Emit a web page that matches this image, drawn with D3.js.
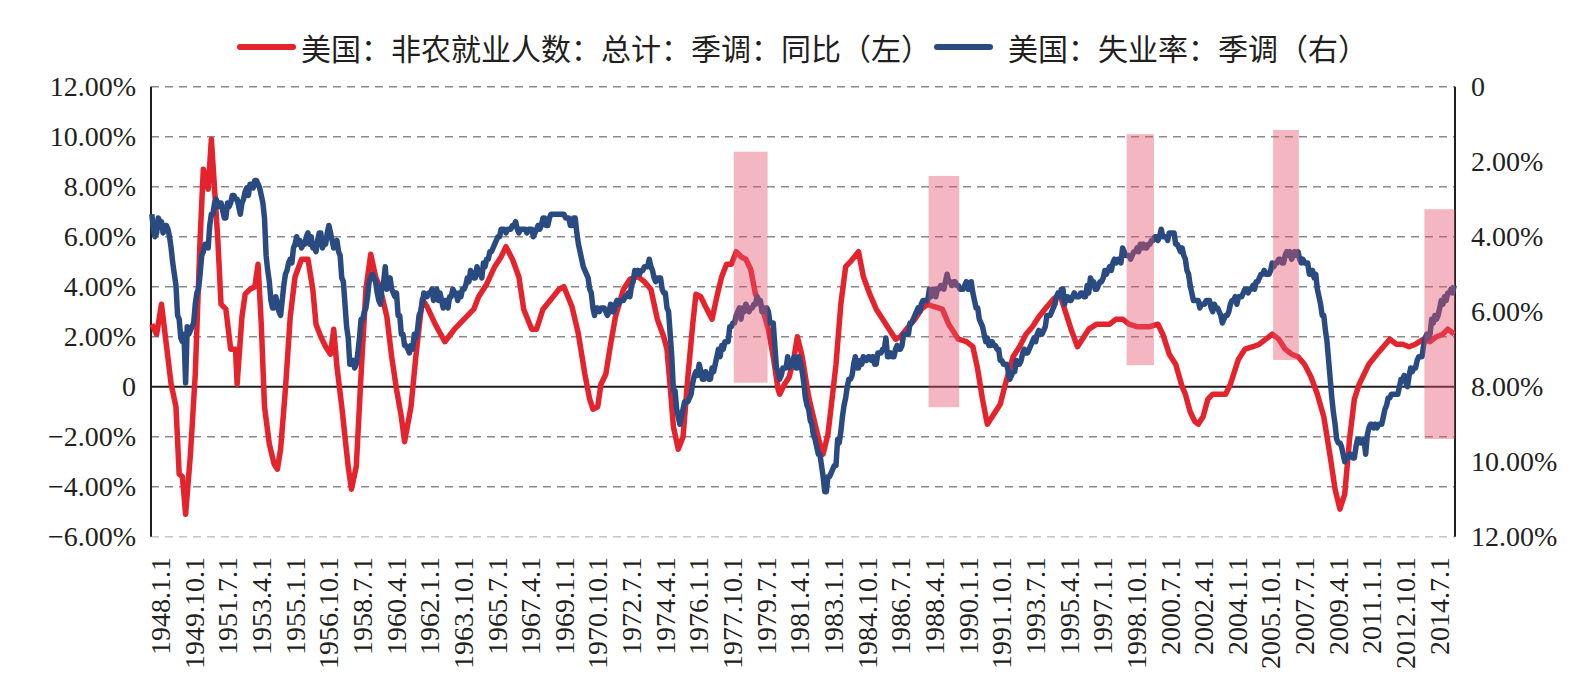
<!DOCTYPE html>
<html lang="zh">
<head>
<meta charset="UTF-8">
<title>美国非农就业与失业率</title>
<script src="https://d3js.org/d3.v7.min.js"></script>
<style>
  body { margin: 0; background: #fff; }
  svg { display: block; }
  .tick-label { font-family: "Liberation Serif", "Times New Roman", serif; font-size: 28px; fill: #231f20; }
  .legend-label { font-family: "Noto Sans CJK SC", sans-serif; font-size: 30px; fill: #231f20; }
</style>
</head>
<body>
<svg id="chart" width="1586" height="689"></svg>
<script>
// 图例
const seriesNames = ["美国：非农就业人数：总计：季调：同比（左）", "美国：失业率：季调（右）"];

// 横轴标签（每21个月一个）
const tickLabels = [
  "1948.1.1", "1949.10.1", "1951.7.1", "1953.4.1", "1955.1.1", "1956.10.1", "1958.7.1", "1960.4.1",
  "1962.1.1", "1963.10.1", "1965.7.1", "1967.4.1", "1969.1.1", "1970.10.1", "1972.7.1", "1974.4.1",
  "1976.1.1", "1977.10.1", "1979.7.1", "1981.4.1", "1983.1.1", "1984.10.1", "1986.7.1", "1988.4.1",
  "1990.1.1", "1991.10.1", "1993.7.1", "1995.4.1", "1997.1.1", "1998.10.1", "2000.7.1", "2002.4.1",
  "2004.1.1", "2005.10.1", "2007.7.1", "2009.4.1", "2011.1.1", "2012.10.1", "2014.7.1"
];

// 左轴 / 右轴刻度
const leftTicks = [12, 10, 8, 6, 4, 2, 0, -2, -4, -6];
const rightTicks = [0, 2, 4, 6, 8, 10, 12];

// 非农就业同比（%），读图取点
const payrollMonths = [
  "1948.1","1948.4","1948.7","1948.10","1949.1","1949.4","1949.6","1949.8","1949.10","1950.1",
  "1950.4","1950.7","1950.9","1950.12","1951.2","1951.4","1951.6","1951.8","1951.11","1952.2",
  "1952.5","1952.6","1952.9","1952.11","1953.2","1953.5","1953.7","1953.9","1953.11","1954.2",
  "1954.5","1954.7","1954.9","1954.12","1955.3","1955.6","1955.10","1956.2","1956.5","1956.7",
  "1956.10","1957.1","1957.4","1957.6","1957.8","1957.11","1958.3","1958.5","1958.8","1958.11",
  "1959.2","1959.5","1959.8","1959.11","1960.3","1960.6","1960.9","1960.12","1961.2","1961.6",
  "1961.9","1962.1","1962.4","1962.9","1963.3","1963.9","1964.3","1964.9","1964.12","1965.5",
  "1965.10","1966.2","1966.5","1966.9","1967.1","1967.4","1967.9","1967.12","1968.4","1968.9",
  "1969.2","1969.5","1969.10","1970.2","1970.6","1970.9","1970.11","1971.2","1971.4","1971.7",
  "1971.10","1972.1","1972.6","1972.10","1973.3","1973.7","1973.11","1974.3","1974.7","1974.9",
  "1974.11","1975.1","1975.4","1975.7","1975.10","1976.1","1976.3","1976.6","1976.9","1977.1",
  "1977.4","1977.7","1977.10","1978.1","1978.4","1978.7","1978.10","1979.1","1979.4","1979.8",
  "1979.12","1980.3","1980.6","1980.7","1980.10","1981.1","1981.4","1981.6","1981.9","1982.1",
  "1982.5","1982.8","1982.10","1983.1","1983.3","1983.6","1983.9","1983.12","1984.3","1984.8",
  "1984.11","1985.3","1985.7","1985.11","1986.3","1986.7","1986.10","1987.3","1987.7","1987.11",
  "1988.3","1988.7","1988.12","1989.4","1989.10","1990.3","1990.7","1990.10","1991.1","1991.4",
  "1991.7","1991.12","1992.4","1992.8","1992.12","1993.4","1993.8","1993.12","1994.5","1994.9",
  "1995.1","1995.4","1995.8","1995.12","1996.3","1996.7","1996.12","1997.4","1997.8","1997.12",
  "1998.4","1998.8","1999.1","1999.5","1999.9","2000.2","2000.5","2000.9","2001.1","2001.5",
  "2001.7","2001.10","2002.1","2002.3","2002.6","2002.9","2002.12","2003.4","2003.8","2003.11",
  "2004.4","2004.8","2005.1","2005.5","2005.9","2006.1","2006.5","2006.9","2007.1","2007.5",
  "2007.9","2008.1","2008.5","2008.9","2009.1","2009.4","2009.7","2009.10","2010.1","2010.4",
  "2010.7","2010.10","2011.1","2011.6","2011.10","2012.2","2012.6","2012.10","2013.2","2013.6",
  "2013.11","2014.3","2014.7","2014.11","2015.2","2015.6"
];
const payrollYoY = [
  2.5, 2.1, 3.3, 1.7, 0.1, -0.8, -3.5, -3.6, -5.1, -2.7,
  0.5, 5.9, 8.7, 7.9, 9.9, 7.9, 5.9, 3.3, 3.1, 1.5,
  1.5, 0.1, 2.8, 3.7, 3.9, 4.0, 4.9, 2.5, -0.8, -2.3,
  -3.1, -3.3, -2.5, -0.1, 2.8, 4.4, 5.1, 5.1, 3.9, 2.5,
  2.0, 1.6, 1.3, 2.3, 0.8, -0.8, -3.2, -4.1, -3.2, 0.5,
  3.9, 5.3, 4.4, 3.9, 2.8, 1.2, -0.1, -1.2, -2.2, -0.8,
  1.2, 3.5, 3.2, 2.5, 1.8, 2.3, 2.7, 3.1, 3.6, 4.1,
  4.8, 5.2, 5.6, 5.1, 4.4, 3.1, 2.3, 2.3, 3.1, 3.5,
  3.9, 4.0, 3.2, 2.1, 0.5, -0.5, -0.9, -0.8, 0.1, 0.5,
  1.7, 2.8, 3.9, 4.3, 4.4, 4.2, 3.9, 2.7, 2.0, 1.5,
  0.0, -1.6, -2.5, -2.0, 0.4, 2.5, 3.7, 3.6, 3.2, 2.7,
  3.6, 4.4, 4.9, 4.9, 5.4, 5.2, 5.1, 4.7, 3.7, 3.2,
  2.3, 1.2, -0.1, -0.3, 0.1, 0.4, 1.2, 2.0, 1.2, -0.4,
  -1.5, -2.3, -2.7, -1.9, -0.8, 0.9, 3.3, 4.8, 5.0, 5.4,
  4.4, 3.7, 3.1, 2.7, 2.3, 1.9, 2.0, 2.4, 2.7, 3.1,
  3.3, 3.2, 3.1, 2.5, 1.9, 1.8, 1.6, 0.7, -0.5, -1.5,
  -1.2, -0.7, 0.3, 1.2, 1.6, 2.1, 2.4, 2.8, 3.2, 3.5,
  3.7, 3.1, 2.3, 1.6, 1.9, 2.3, 2.5, 2.5, 2.5, 2.7,
  2.7, 2.5, 2.4, 2.4, 2.4, 2.5, 2.1, 1.3, 0.9, 0.0,
  -0.3, -1.0, -1.4, -1.5, -1.2, -0.5, -0.3, -0.3, -0.3, 0.1,
  1.1, 1.5, 1.6, 1.7, 1.9, 2.1, 1.9, 1.5, 1.3, 1.2,
  0.9, 0.4, -0.3, -1.2, -2.8, -4.1, -4.9, -4.3, -2.1, -0.5,
  0.1, 0.5, 0.9, 1.3, 1.6, 1.9, 1.7, 1.7, 1.6, 1.7,
  1.9, 1.8, 2.0, 2.1, 2.3, 2.1
];

// 失业率（%），1948.1 - 2015.6 逐月
const unemploymentRate = [
  3.4, 3.8, 4.0, 3.9, 3.5, 3.6, 3.6, 3.9, 3.8, 3.7, 3.8, 4.0,
  4.3, 4.7, 5.0, 5.3, 6.1, 6.2, 6.7, 6.8, 6.6, 7.9, 6.4, 6.6,
  6.5, 6.4, 6.3, 5.8, 5.5, 5.4, 5.0, 4.5, 4.4, 4.2, 4.2, 4.3,
  3.7, 3.4, 3.4, 3.1, 3.0, 3.2, 3.1, 3.1, 3.3, 3.5, 3.5, 3.1,
  3.2, 3.1, 2.9, 2.9, 3.0, 3.0, 3.2, 3.4, 3.1, 3.0, 2.8, 2.7,
  2.9, 2.6, 2.6, 2.7, 2.5, 2.5, 2.6, 2.7, 2.9, 3.1, 3.5, 4.5,
  4.9, 5.2, 5.7, 5.9, 5.9, 5.6, 5.8, 6.0, 6.1, 5.7, 5.3, 5.0,
  4.9, 4.7, 4.6, 4.7, 4.3, 4.2, 4.0, 4.2, 4.1, 4.3, 4.2, 4.2,
  4.0, 3.9, 4.2, 4.0, 4.3, 4.3, 4.4, 4.1, 3.9, 3.9, 4.3, 4.2,
  4.2, 3.9, 3.7, 3.9, 4.1, 4.3, 4.2, 4.1, 4.4, 4.5, 5.1, 5.2,
  5.8, 6.4, 6.7, 7.4, 7.4, 7.3, 7.5, 7.4, 7.1, 6.7, 6.2, 6.2,
  6.0, 5.9, 5.6, 5.2, 5.1, 5.0, 5.1, 5.2, 5.5, 5.7, 5.8, 5.3,
  5.2, 4.8, 5.4, 5.2, 5.1, 5.4, 5.5, 5.6, 5.5, 6.1, 6.1, 6.6,
  6.6, 6.9, 6.9, 7.0, 7.1, 6.9, 7.0, 6.6, 6.7, 6.5, 6.1, 6.0,
  5.8, 5.5, 5.6, 5.6, 5.5, 5.5, 5.4, 5.7, 5.6, 5.4, 5.7, 5.5,
  5.7, 5.9, 5.7, 5.7, 5.9, 5.6, 5.6, 5.4, 5.5, 5.5, 5.7, 5.5,
  5.6, 5.4, 5.4, 5.3, 5.1, 5.2, 4.9, 5.0, 5.1, 5.1, 4.8, 5.0,
  4.9, 5.1, 4.7, 4.8, 4.6, 4.6, 4.4, 4.4, 4.3, 4.2, 4.1, 4.0,
  4.0, 3.8, 3.8, 3.8, 3.9, 3.8, 3.8, 3.8, 3.7, 3.7, 3.6, 3.8,
  3.9, 3.8, 3.8, 3.8, 3.8, 3.9, 3.8, 3.8, 3.8, 4.0, 3.9, 3.8,
  3.7, 3.8, 3.7, 3.5, 3.5, 3.7, 3.7, 3.5, 3.4, 3.4, 3.4, 3.4,
  3.4, 3.4, 3.4, 3.4, 3.4, 3.5, 3.5, 3.5, 3.7, 3.7, 3.5, 3.5,
  3.9, 4.2, 4.4, 4.6, 4.8, 4.9, 5.0, 5.1, 5.4, 5.5, 5.9, 6.1,
  5.9, 5.9, 6.0, 5.9, 5.9, 5.9, 6.0, 6.1, 6.0, 5.8, 6.0, 6.0,
  5.8, 5.7, 5.8, 5.7, 5.7, 5.7, 5.6, 5.6, 5.5, 5.6, 5.3, 5.2,
  4.9, 5.0, 4.9, 5.0, 4.9, 4.9, 4.8, 4.8, 4.8, 4.6, 4.8, 4.9,
  5.1, 5.2, 5.1, 5.1, 5.1, 5.4, 5.5, 5.5, 5.9, 6.0, 6.6, 7.2,
  8.1, 8.1, 8.6, 8.8, 9.0, 8.8, 8.6, 8.4, 8.4, 8.4, 8.3, 8.2,
  7.9, 7.7, 7.6, 7.7, 7.4, 7.6, 7.8, 7.8, 7.6, 7.7, 7.8, 7.8,
  7.5, 7.6, 7.4, 7.2, 7.0, 7.2, 6.9, 7.0, 6.8, 6.8, 6.8, 6.4,
  6.4, 6.3, 6.3, 6.1, 6.0, 5.9, 6.2, 5.9, 6.0, 5.8, 5.9, 6.0,
  5.9, 5.9, 5.8, 5.8, 5.6, 5.7, 5.7, 6.0, 5.9, 6.0, 5.9, 6.0,
  6.3, 6.3, 6.3, 6.9, 7.5, 7.6, 7.8, 7.7, 7.5, 7.5, 7.5, 7.2,
  7.5, 7.4, 7.4, 7.2, 7.5, 7.5, 7.2, 7.4, 7.6, 7.9, 8.3, 8.5,
  8.6, 8.9, 9.0, 9.3, 9.4, 9.6, 9.8, 9.8, 10.1, 10.4, 10.8, 10.8,
  10.4, 10.4, 10.3, 10.2, 10.1, 10.1, 9.4, 9.5, 9.2, 8.8, 8.5, 8.3,
  8.0, 7.8, 7.8, 7.7, 7.4, 7.2, 7.5, 7.5, 7.3, 7.4, 7.2, 7.3,
  7.3, 7.2, 7.2, 7.3, 7.2, 7.4, 7.4, 7.1, 7.1, 7.1, 7.0, 7.0,
  6.7, 7.2, 7.2, 7.1, 7.2, 7.2, 7.0, 6.9, 7.0, 7.0, 6.9, 6.6,
  6.6, 6.6, 6.6, 6.3, 6.3, 6.2, 6.1, 6.0, 5.9, 6.0, 5.8, 5.7,
  5.7, 5.7, 5.7, 5.4, 5.6, 5.4, 5.4, 5.6, 5.4, 5.4, 5.3, 5.3,
  5.4, 5.2, 5.0, 5.2, 5.2, 5.3, 5.2, 5.2, 5.3, 5.3, 5.4, 5.4,
  5.4, 5.3, 5.2, 5.4, 5.4, 5.2, 5.5, 5.7, 5.9, 5.9, 6.2, 6.3,
  6.4, 6.6, 6.8, 6.7, 6.9, 6.9, 6.8, 6.9, 6.9, 7.0, 7.0, 7.3,
  7.3, 7.4, 7.4, 7.4, 7.6, 7.8, 7.7, 7.6, 7.6, 7.3, 7.4, 7.4,
  7.3, 7.1, 7.0, 7.1, 7.1, 7.0, 6.9, 6.8, 6.7, 6.8, 6.6, 6.5,
  6.6, 6.6, 6.5, 6.4, 6.1, 6.1, 6.1, 6.0, 5.9, 5.8, 5.6, 5.5,
  5.6, 5.4, 5.4, 5.8, 5.6, 5.6, 5.7, 5.7, 5.6, 5.5, 5.6, 5.6,
  5.6, 5.5, 5.5, 5.6, 5.6, 5.3, 5.5, 5.1, 5.2, 5.2, 5.4, 5.4,
  5.3, 5.2, 5.2, 5.1, 4.9, 5.0, 4.9, 4.8, 4.9, 4.7, 4.6, 4.7,
  4.6, 4.6, 4.7, 4.3, 4.4, 4.5, 4.5, 4.5, 4.6, 4.5, 4.4, 4.4,
  4.3, 4.4, 4.2, 4.3, 4.2, 4.3, 4.3, 4.2, 4.2, 4.1, 4.1, 4.0,
  4.0, 4.1, 4.0, 3.8, 4.0, 4.0, 4.0, 4.1, 3.9, 3.9, 3.9, 3.9,
  4.2, 4.2, 4.3, 4.4, 4.3, 4.5, 4.6, 4.9, 5.0, 5.3, 5.5, 5.7,
  5.7, 5.7, 5.7, 5.9, 5.8, 5.8, 5.8, 5.7, 5.7, 5.7, 5.9, 6.0,
  5.8, 5.9, 5.9, 6.0, 6.1, 6.3, 6.2, 6.1, 6.1, 6.0, 5.8, 5.7,
  5.7, 5.6, 5.8, 5.6, 5.6, 5.6, 5.5, 5.4, 5.4, 5.5, 5.4, 5.4,
  5.3, 5.4, 5.2, 5.2, 5.1, 5.0, 5.0, 4.9, 5.0, 5.0, 5.0, 4.9,
  4.7, 4.8, 4.7, 4.7, 4.6, 4.6, 4.7, 4.7, 4.5, 4.4, 4.5, 4.4,
  4.6, 4.5, 4.4, 4.5, 4.4, 4.6, 4.7, 4.6, 4.7, 4.7, 4.7, 5.0,
  5.0, 4.9, 5.1, 5.0, 5.4, 5.6, 5.8, 6.1, 6.1, 6.5, 6.8, 7.3,
  7.8, 8.3, 8.7, 9.0, 9.4, 9.5, 9.5, 9.6, 9.8, 10.0, 9.9, 9.9,
  9.8, 9.8, 9.9, 9.9, 9.6, 9.4, 9.4, 9.5, 9.5, 9.4, 9.8, 9.3,
  9.1, 9.0, 9.0, 9.1, 9.0, 9.1, 9.0, 9.0, 9.0, 8.8, 8.6, 8.5,
  8.3, 8.3, 8.2, 8.2, 8.2, 8.2, 8.2, 8.0, 7.8, 7.8, 7.7, 7.9,
  8.0, 7.7, 7.5, 7.6, 7.5, 7.5, 7.3, 7.2, 7.2, 7.2, 6.9, 6.7,
  6.6, 6.7, 6.6, 6.2, 6.3, 6.1, 6.2, 6.1, 5.9, 5.7, 5.8, 5.6,
  5.7, 5.5, 5.5, 5.4, 5.5, 5.3
];

// 阴影区间（按左轴数值给出上下沿）
const shadeStart = ["1978.3", "1988.4", "1998.7", "2006.2", "2013.12"];
const shadeEnd = ["1979.11", "1989.10", "1999.11", "2007.5", "2015.6"];
const shadeTop = [9.4, 8.43, 10.1, 10.27, 7.1];
const shadeBottom = [0.16, -0.82, 0.86, 1.07, -2.09];

// 月份类目 1948.1 - 2015.6
const months = [];
for (let y = 1948; y <= 2015; y++) {
  for (let m = 1; m <= 12; m++) {
    if (y === 2015 && m > 6) break;
    months.push(y + "." + m);
  }
}

const plotLeft = 151, plotRight = 1455, plotTop = 86.7, plotBottom = 536.7;

const svg = d3.select("#chart");

const x = d3.scaleBand().domain(months).range([plotLeft, plotRight]);
const xc = k => x(k) + x.bandwidth() / 2;
const yL = d3.scaleLinear().domain([-6, 12]).range([plotBottom, plotTop]);
const yR = d3.scaleLinear().domain([0, 12]).range([plotTop, plotBottom]);

// 横轴标签位置（标签列比数据点略偏右）
const keyOf = d => d.replace(/\.1$/, "");
const xLabel = d3.scalePoint()
  .domain(tickLabels)
  .range([xc(keyOf(tickLabels[0])) + 9, xc(keyOf(tickLabels[tickLabels.length - 1])) + 3]);

const fmt = v => v === 0 ? "0" : d3.format(".2f")(v) + "%";

// 网格线
svg.append("g").selectAll("line")
  .data(leftTicks.filter(v => v !== 0))
  .join("line")
  .attr("x1", plotLeft).attr("x2", plotRight)
  .attr("y1", d => yL(d)).attr("y2", d => yL(d))
  .attr("stroke", d => d === -6 ? "#c4c4c4" : "#8a8a8a")
  .attr("stroke-width", 1.6)
  .attr("stroke-dasharray", "8,6");

// 零线
svg.append("line")
  .attr("x1", plotLeft).attr("x2", plotRight)
  .attr("y1", yL(0)).attr("y2", yL(0))
  .attr("stroke", "#231f20").attr("stroke-width", 2);

// 左右纵轴
svg.append("line")
  .attr("x1", plotLeft).attr("x2", plotLeft)
  .attr("y1", plotTop).attr("y2", plotBottom)
  .attr("stroke", "#231f20").attr("stroke-width", 2);
svg.append("line")
  .attr("x1", plotRight).attr("x2", plotRight)
  .attr("y1", plotTop).attr("y2", plotBottom)
  .attr("stroke", "#231f20").attr("stroke-width", 2);

// 左轴标签
const leftAxis = svg.append("g")
  .attr("transform", `translate(${plotLeft - 15},0)`)
  .call(d3.axisLeft(yL).tickValues(leftTicks).tickFormat(fmt).tickSize(0).tickPadding(0));
leftAxis.select(".domain").remove();
leftAxis.selectAll("text").attr("class", "tick-label");

// 右轴标签
const rightAxis = svg.append("g")
  .attr("transform", `translate(${plotRight + 16},0)`)
  .call(d3.axisRight(yR).tickValues(rightTicks).tickFormat(fmt).tickSize(0).tickPadding(0));
rightAxis.select(".domain").remove();
rightAxis.selectAll("text").attr("class", "tick-label");

// 横轴标签（竖排）
svg.append("g").selectAll("text")
  .data(tickLabels)
  .join("text")
  .attr("class", "tick-label")
  .attr("transform", d => `translate(${xLabel(d)},${557}) rotate(-90)`)
  .attr("text-anchor", "end")
  .attr("dy", "0.33em")
  .text(d => d);

// 折线
const payroll = payrollMonths.map((k, i) => ({ k, v: payrollYoY[i] }));
const unemp = months.map((k, i) => ({ k, v: unemploymentRate[i] }));

svg.append("path")
  .datum(payroll)
  .attr("fill", "none")
  .attr("stroke", "#e4232d")
  .attr("stroke-width", 5.5)
  .attr("stroke-linejoin", "round")
  .attr("d", d3.line().x(d => xc(d.k)).y(d => yL(d.v)));

svg.append("path")
  .datum(unemp)
  .attr("fill", "none")
  .attr("stroke", "#2a4b82")
  .attr("stroke-width", 5.5)
  .attr("stroke-linejoin", "round")
  .attr("d", d3.line().x(d => xc(d.k)).y(d => yR(d.v)));

// 阴影
svg.append("g").selectAll("rect")
  .data(shadeStart)
  .join("rect")
  .attr("x", d => x(d))
  .attr("width", (d, i) => x(shadeEnd[i]) + x.bandwidth() - x(d))
  .attr("y", (d, i) => yL(shadeTop[i]))
  .attr("height", (d, i) => yL(shadeBottom[i]) - yL(shadeTop[i]))
  .attr("fill", "rgb(229,84,108)")
  .attr("fill-opacity", 0.42);

// 图例
const legendColors = ["#e4232d", "#2a4b82"];
const legendX = [240, 937];
const legendTextX = [301, 1008];
const legend = svg.append("g");
seriesNames.forEach((name, i) => {
  legend.append("line")
    .attr("x1", legendX[i]).attr("x2", legendX[i] + 53)
    .attr("y1", 47).attr("y2", 47)
    .attr("stroke", legendColors[i])
    .attr("stroke-width", 6)
    .attr("stroke-linecap", "round");
  legend.append("text")
    .attr("class", "legend-label")
    .attr("x", legendTextX[i])
    .attr("y", 47)
    .attr("dominant-baseline", "central")
    .text(name);
});
</script>
</body>
</html>
